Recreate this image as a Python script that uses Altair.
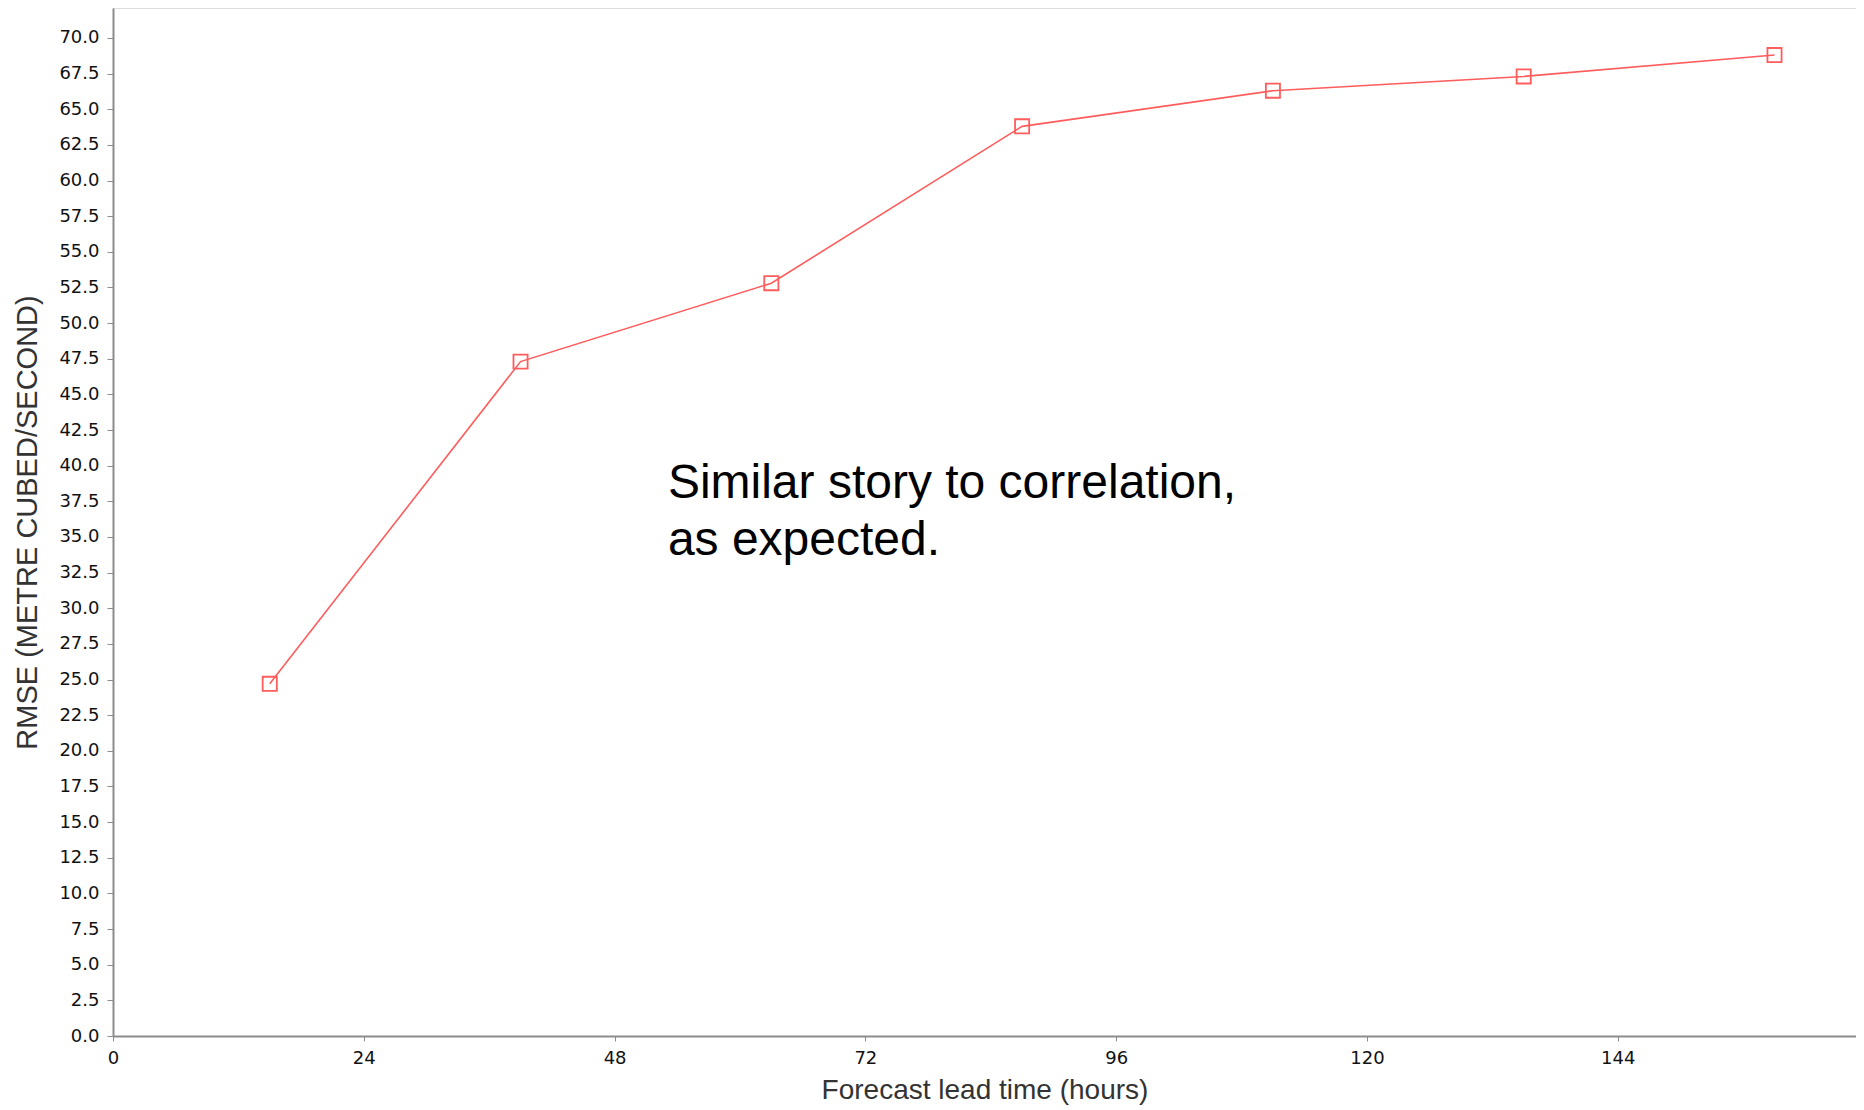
import altair as alt
import pandas as pd

lead_hours = [15, 39, 63, 87, 111, 135, 159]
rmse = [24.7, 47.3, 52.8, 63.8, 66.3, 67.3, 68.8]
x_ticks = [0, 24, 48, 72, 96, 120, 144]
y_ticks = [i * 2.5 for i in range(29)]
note_lines = ["Similar story to correlation,", "as expected."]
note_x = [53.1]
note_y = [40.4]

df = pd.DataFrame({"lead": lead_hours, "rmse": rmse})
note_df = pd.DataFrame({"x": note_x, "y": note_y, "text": ["\n".join(note_lines)]})

LINE_COLOR = "#ff5c5c"
AXIS_COLOR = "#8c8c8c"

x_scale = alt.Scale(domain=[0, 166.8], nice=False, zero=False)
y_scale = alt.Scale(domain=[0, 72.1], nice=False)

x_axis = alt.Axis(
    values=x_ticks, tickCount=len(x_ticks) + 1, title="Forecast lead time (hours)", grid=False,
    labelFont="DejaVu Sans", labelFontSize=18, labelColor="#111111",
    labelPadding=8, labelFlush=False, labelOverlap=False,
    tickSize=5, tickColor=AXIS_COLOR, domainColor=AXIS_COLOR,
    domainWidth=2, titleFont="Liberation Sans", titleFontSize=28,
    titleFontWeight="normal", titleColor="#333333", titlePadding=9,
)
y_axis = alt.Axis(
    values=y_ticks, tickCount=len(y_ticks) + 1, format=".1f",
    title="RMSE (METRE CUBED/SECOND)", grid=False,
    labelFont="DejaVu Sans", labelFontSize=18, labelColor="#111111",
    labelPadding=8, labelFlush=False, labelOverlap=False,
    tickSize=6, tickColor=AXIS_COLOR, domainColor=AXIS_COLOR,
    domainWidth=2, titleFont="Liberation Sans", titleFontSize=29,
    titleFontWeight="normal", titleColor="#333333", titlePadding=16,
)

base = alt.Chart(df).encode(
    x=alt.X("lead:Q", scale=x_scale, axis=x_axis),
    y=alt.Y("rmse:Q", scale=y_scale, axis=y_axis),
)

line = base.mark_line(color=LINE_COLOR, strokeWidth=1.6)
points = base.mark_point(shape="square", size=200, filled=False,
                         color=LINE_COLOR, strokeWidth=1.8, opacity=1)

note = alt.Chart(note_df).mark_text(
    align="left", baseline="top", font="Liberation Sans", fontSize=48,
    lineHeight=57, color="#000000", lineBreak="\n",
).encode(
    x=alt.X("x:Q", scale=x_scale),
    y=alt.Y("y:Q", scale=y_scale),
    text="text:N",
)

chart = alt.layer(line, points, note).properties(
    width=1743, height=1028,
    autosize=alt.AutoSizeParams(type="none"),
    padding={"left": 105, "top": 0, "right": 0, "bottom": 70},
).configure_view(
    stroke=AXIS_COLOR, strokeWidth=2
).configure(background="white")

chart.save("out.html", embed_options={"renderer": "svg", "actions": False})
